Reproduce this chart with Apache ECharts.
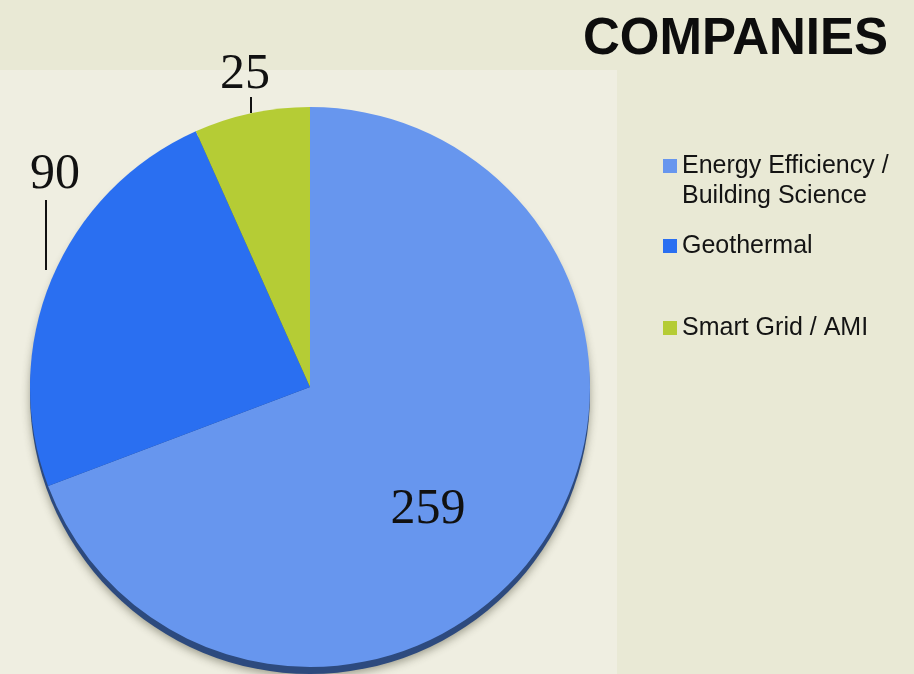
<!DOCTYPE html>
<html>
<head>
<meta charset="utf-8">
<script src="https://cdn.jsdelivr.net/npm/echarts@6/dist/echarts.min.js"></script>
<style>
  html, body { margin: 0; padding: 0; background: #e9e9d5; }
  #main { width: 914px; height: 674px; }
</style>
</head>
<body>
<div id="main"></div>
<script>
var categories = ['Energy Efficiency / Building Science', 'Geothermal', 'Smart Grid / AMI'];
var values = [259, 90, 25];
var colors = ['#6796ee', '#2a6ff1', '#b5cc35'];

// where each number sits, and its little leader line
var labelSpots = [
    { x: 428, y: 510, line: null },
    { x: 55, y: 175, line: [[46, 200], [46, 270]] },
    { x: 245, y: 75, line: [[251, 97], [251, 113]] }
];

var total = values.reduce(function (a, b) { return a + b; }, 0);

var chart = echarts.init(document.getElementById('main'));

var legendTops = [121, 231, 313];
var legends = categories.map(function (name, i) {
    return {
        orient: 'vertical',
        left: 663,
        top: legendTops[i],
        padding: 0,
        itemWidth: 14,
        itemHeight: 14,
        itemGap: 0,
        icon: 'rect',
        selectedMode: false,
        data: [name],
        formatter: function (n) {
            // first line lines up with the square
            if (n.indexOf(' / B') > 0) {
                return '\nEnergy Efficiency /\nBuilding Science';
            }
            return n;
        },
        textStyle: {
            fontFamily: '"Liberation Sans", Arial, sans-serif',
            fontSize: 25,
            lineHeight: 30,
            color: '#141414'
        }
    };
});

var option = {
    backgroundColor: '#e9e9d5',
    animation: false,
    title: {
        text: 'COMPANIES',
        right: 21,
        top: 9,
        textStyle: {
            fontFamily: '"Liberation Sans", Arial, sans-serif',
            fontSize: 51,
            fontWeight: 'bold',
            color: '#0d0d0d'
        }
    },
    graphic: [{
        type: 'rect',
        z: -10,
        shape: { x: 0, y: 70, width: 617, height: 604 },
        style: { fill: '#efeee1' }
    }],
    legend: legends,
    series: [
        {
            // dark rim under the pie
            type: 'pie',
            silent: true,
            z: 1,
            center: [310, 394],
            radius: 280,
            label: { show: false },
            labelLine: { show: false },
            itemStyle: {
                color: '#2d4a7e',
                shadowColor: 'rgba(60, 60, 40, 0.45)',
                shadowBlur: 8,
                shadowOffsetY: 3
            },
            data: [{ name: 'rim', value: total }]
        },
        {
            type: 'pie',
            z: 2,
            center: [310, 387],
            radius: 280,
            startAngle: 90,
            clockwise: true,
            avoidLabelOverlap: false,
            label: {
                show: true,
                formatter: '{c}',
                fontFamily: '"Liberation Serif", "Times New Roman", serif',
                fontSize: 50,
                color: '#111'
            },
            labelLine: {
                show: true,
                lineStyle: { color: '#111', width: 2 }
            },
            labelLayout: function (params) {
                var s = labelSpots[params.dataIndex];
                var out = { x: s.x, y: s.y, align: 'center', verticalAlign: 'middle' };
                if (s.line) {
                    out.labelLinePoints = s.line;
                }
                return out;
            },
            emphasis: { disabled: true },
            data: categories.map(function (name, i) {
                return {
                    name: name,
                    value: values[i],
                    itemStyle: { color: colors[i] },
                    labelLine: { show: !!labelSpots[i].line }
                };
            })
        }
    ]
};

chart.setOption(option);
</script>
</body>
</html>
